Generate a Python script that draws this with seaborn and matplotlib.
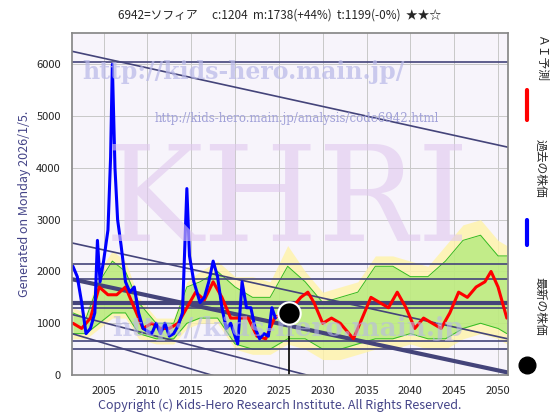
import matplotlib
matplotlib.use("Agg")
import matplotlib.pyplot as plt
import seaborn as sns
import numpy as np
import pandas as pd

sns.set_theme(style="whitegrid")
plt.rcParams['font.family'] = ['Noto Sans CJK JP', 'DejaVu Sans']

# -------------------------------------------------------------------------------------------
# Data

blue_year = [2001.5, 2002, 2002.5, 2003, 2003.5, 2004, 2004.3, 2004.6, 2005, 2005.5, 2005.8, 2006,
             2006.3, 2006.6, 2007, 2007.5, 2008, 2008.5, 2009, 2009.5, 2010, 2010.5, 2011, 2011.5,
             2012, 2012.5, 2013, 2013.5, 2014, 2014.5, 2014.8, 2015.3, 2016, 2016.5, 2017, 2017.5,
             2018, 2018.5, 2019, 2019.5, 2020.3, 2020.8, 2021.3, 2021.8, 2022.3, 2022.8, 2023.3,
             2023.8, 2024.2, 2024.6]
blue_price = [2100, 1900, 1400, 800, 900, 1200, 2600, 1800, 2200, 2800, 4200, 6000,
              4000, 3000, 2500, 1800, 1600, 1700, 1200, 900, 850, 800, 1000, 800,
              1000, 750, 800, 950, 1200, 3600, 2300, 1800, 1400, 1500, 1800, 2200,
              1900, 1300, 900, 1000, 600, 1800, 1300, 1300, 900, 700, 800,
              750, 1300, 1100]

red_year = [2001.5, 2002.5, 2003.5, 2004.5, 2005.5, 2006.5, 2007.5, 2008.5, 2009.5, 2010.5, 2011.5,
            2012.5, 2013.5, 2014.5, 2015.5, 2016.5, 2017.5, 2018.5, 2019.5, 2020.5, 2021.5, 2022.5,
            2023.5, 2024.5, 2025.5, 2026.5, 2027.5, 2028.3, 2029, 2030, 2031, 2032, 2033.5, 2034.5,
            2035.5, 2036.5, 2037.5, 2038.5, 2039.5, 2040.5, 2041.5, 2042.5, 2043.5, 2044.5, 2045.5,
            2046.5, 2047.5, 2048.5, 2049.2, 2050, 2051]
red_price = [1000, 900, 1100, 1700, 1550, 1550, 1700, 1300, 900, 1000, 900,
             900, 1000, 1300, 1600, 1450, 1800, 1500, 1100, 1100, 1100, 750,
             700, 1100, 1200, 1300, 1500, 1600, 1400, 1000, 1100, 1000, 700, 1100,
             1500, 1400, 1300, 1600, 1300, 900, 1100, 1000, 900, 1200, 1600,
             1500, 1700, 1800, 2000, 1700, 1100]

band_year = [2001.5, 2003, 2004.5, 2006, 2007.5, 2009, 2011, 2013, 2014.5, 2016, 2018, 2020,
             2022, 2024, 2026, 2028, 2030, 2032, 2034, 2036, 2038, 2040, 2042, 2044, 2046,
             2048, 2050, 2051]
yellow_low = [700, 700, 900, 1100, 1100, 700, 600, 600, 900, 1000, 1000, 500,
              400, 400, 600, 500, 300, 300, 400, 500, 500, 600, 500, 500, 700,
              800, 700, 600]
yellow_high = [1300, 1200, 2000, 2400, 2200, 1500, 1100, 1100, 1800, 2000, 2200, 1900,
               1900, 1800, 2500, 2000, 1600, 1700, 1800, 2300, 2300, 2200, 2100, 2500, 2900,
               3000, 2600, 2500]
green_low = [800, 800, 1000, 1200, 1200, 800, 700, 700, 1000, 1100, 1100, 600,
             500, 500, 700, 700, 500, 500, 600, 700, 700, 800, 700, 700, 900,
             1000, 900, 800]
green_high = [1200, 1100, 1800, 2200, 2000, 1400, 1000, 1000, 1700, 1800, 2000, 1700,
              1500, 1500, 2100, 1800, 1400, 1500, 1600, 2100, 2100, 1900, 1900, 2200, 2600,
              2700, 2300, 2300]

h_levels = [6050, 2150, 1850, 1400, 1300, 650, 500]
h_widths = [1.2, 1.2, 1.2, 3, 1.2, 1.2, 1.2]
trend_start = [6250, 2550, 1850, 1170, 800]
trend_end = [4400, 700, 50, -1000, -1700]
trend_widths = [1.2, 1.2, 3, 1.2, 1.2]

latest_year, latest_price = 2026.2, 1200

# -------------------------------------------------------------------------------------------
# Plot

fig = plt.figure(figsize=(5.6, 4.2), dpi=100)
ax = fig.add_axes([0.1286, 0.107, 0.778, 0.814])
ax.set_facecolor("#f7f4fb")

ax.fill_between(band_year, yellow_low, yellow_high, color="#fff3a8", alpha=0.8, lw=0)
ax.fill_between(band_year, green_low, green_high, color="#9be86a", alpha=0.6, lw=0)
ax.plot(band_year, green_low, color="#33bb22", lw=0.7)
ax.plot(band_year, green_high, color="#33bb22", lw=0.7)

for lv, w in zip(h_levels, h_widths):
    ax.axhline(lv, color="#44447a", lw=w)
for s, e, w in zip(trend_start, trend_end, trend_widths):
    ax.plot([2001.4, 2051.1], [s, e], color="#44447a", lw=w)

sns.lineplot(x=red_year, y=red_price, ax=ax, color="red", lw=2.2)
sns.lineplot(x=blue_year, y=blue_price, ax=ax, color="blue", lw=2.2)

ax.plot([latest_year, latest_year], [0, latest_price], color="black", lw=1.2)
ax.scatter([latest_year], [latest_price], s=260, color="black", edgecolor="white", lw=1.5, zorder=5)

# watermarks
ax.text(2021, 5850, "http://kids-hero.main.jp/", fontsize=17, color="#b8b8e8", alpha=0.7,
        ha="center", va="center", family="DejaVu Serif", fontweight="bold")
ax.text(2027, 4950, "http://kids-hero.main.jp/analysis/code6942.html", fontsize=8.5, color="#a0a0d8",
        ha="center", va="center", family="DejaVu Serif")
ax.text(2026, 3300, "KHRI", fontsize=95, color="#e0c8ee", alpha=0.6, ha="center", va="center",
        family="DejaVu Serif")
ax.text(2026, 900, "http://kids-hero.main.jp", fontsize=19, color="#b8b8e8", alpha=0.6,
        ha="center", va="center", family="DejaVu Serif", fontweight="bold")

ax.set_xlim(2001.4, 2051.1)
ax.set_ylim(0, 6600)
ax.set_xticks(range(2005, 2051, 5))
ax.set_yticks(range(0, 6001, 1000))
ax.tick_params(labelsize=8, pad=2)
ax.grid(color="#c8c8c8", lw=0.7)
for sp in ax.spines.values():
    sp.set_color("#888888")
ax.set_ylabel("Generated on Monday 2026/1/5.", fontsize=9, color="#444488")

fig.text(0.5, 0.965, "6942=ソフィア　 c:1204  m:1738(+44%)  t:1199(-0%)  ★★☆",
         ha="center", va="center", fontsize=8.5)
fig.text(0.5, 0.035, "Copyright (c) Kids-Hero Research Institute. All Rights Reserved.",
         ha="center", va="center", fontsize=9, color="#444488")

# right-side legend
fig.add_artist(plt.Line2D([0.941, 0.941], [0.714, 0.786], color="red", lw=3))
fig.text(0.965, 0.86, "ＡＩ予測", rotation=270, ha="center", va="center", fontsize=8.5)
fig.add_artist(plt.Line2D([0.941, 0.941], [0.417, 0.476], color="blue", lw=3))
fig.text(0.965, 0.6, "過去の株価", rotation=270, ha="center", va="center", fontsize=8.5)
fig.add_artist(plt.Line2D([0.941], [0.13], marker="o", color="black", markersize=12))
fig.text(0.965, 0.27, "最新の株価", rotation=270, ha="center", va="center", fontsize=8.5)

fig.savefig("out.png", dpi=100)
